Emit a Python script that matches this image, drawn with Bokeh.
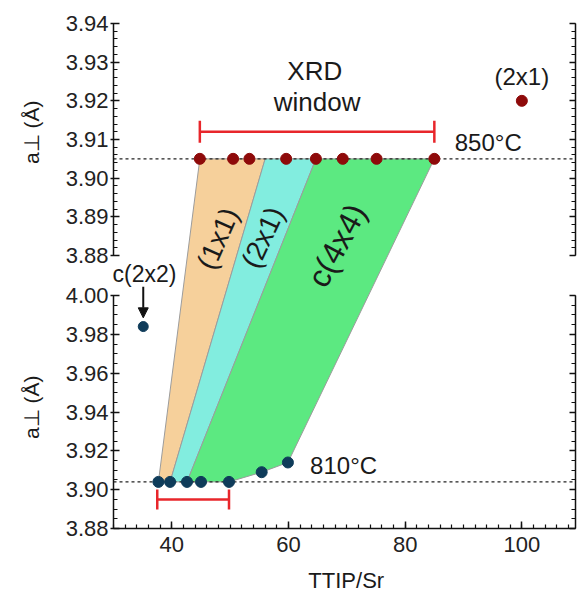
from bokeh.plotting import figure
from bokeh.models import (Range1d, LinearAxis, SingleIntervalTicker, Label, Arrow, NormalHead,
                          CustomJSTickFormatter, PrintfTickFormatter)
from bokeh.embed import file_html
from bokeh.resources import INLINE

# ---------------- data ----------------
x_label = "TTIP/Sr"
y_label = "a\u22a5 (\u00c5)"

# 850 C series (upper panel)
top_x = [44.8, 50.5, 53.3, 59.6, 64.7, 69.3, 75.1, 85.0]
top_y = [3.905, 3.905, 3.905, 3.905, 3.905, 3.905, 3.905, 3.905]
top_extra_x = [100.0]
top_extra_y = [3.920]

# 810 C series (lower panel)
bot_x = [37.7, 39.7, 42.6, 45.0, 49.8, 55.4, 59.9]
bot_y = [3.904, 3.904, 3.904, 3.904, 3.904, 3.909, 3.914]
bot_extra_x = [35.1]
bot_extra_y = [3.984]

# phase regions (upper edge at 850 C, lower edge at 810 C)
phase_names = ["(1x1)", "(2x1)", "c(4x4)"]
phase_colors = ["#F6D09B", "#82EDDF", "#5CE981"]
phase_top_x = [[44.8, 56.0], [56.0, 64.7], [64.7, 85.0]]
phase_top_y = [3.905, 3.905, 3.905]
phase_bot_x = [[37.7, 39.7], [39.7, 42.6], [42.6, 49.8, 55.4, 59.9]]
phase_bot_y = [[3.904, 3.904], [3.904, 3.904], [3.904, 3.904, 3.909, 3.914]]

temp_top = 3.905
temp_bot = 3.904
xrd_top_x = [44.8, 85.0]
xrd_top_y = 3.912
xrd_bot_x = [37.5, 49.8]
xrd_bot_y = 3.895

# axis extents and ticks
x_lo, x_step, x_minor = 30.0, 20, 10
top_lo, top_hi, top_step, top_minor = 3.88, 3.94, 0.01, 5
bot_lo, bot_hi, bot_step, bot_minor = 3.88, 4.00, 0.02, 4

# ---------------- layout (pixels) ----------------
FONT = "Liberation Sans"
W, H = 579, 594
AX_L, AX_R = 113.0, 575.0                   # left / right spines
TOP_HI_PX, TOP_LO_PX = 23.0, 255.0          # upper panel 3.94 .. 3.88
BOT_HI_PX, BOT_LO_PX = 295.0, 528.0         # lower panel 4.00 .. 3.88
PX_PER_X = 116.67 / 20.0

x_hi = x_lo + (AX_R - AX_L) / PX_PER_X
x_range = Range1d(x_lo - AX_L / PX_PER_X, x_lo + (W - AX_L) / PX_PER_X)
bpx = (BOT_LO_PX - BOT_HI_PX) / (bot_hi - bot_lo)
tpx = (TOP_LO_PX - TOP_HI_PX) / (top_hi - top_lo)
bot_range = Range1d(bot_lo - (H - BOT_LO_PX) / bpx, bot_lo + BOT_LO_PX / bpx)
top_range = Range1d(top_hi - (H - TOP_HI_PX) / tpx, top_hi + TOP_HI_PX / tpx)
K = (top_range.end - top_range.start) / (bot_range.end - bot_range.start)


def top_to_bot(y):
    return bot_range.start + (y - top_range.start) / K


p = figure(width=W, height=H, output_backend="svg", toolbar_location=None,
           x_range=x_range, y_range=bot_range, x_axis_location=None, y_axis_location=None,
           min_border=0, min_border_left=0, min_border_right=0, min_border_top=0,
           min_border_bottom=0)
p.extra_y_ranges = {"top": top_range}
p.outline_line_color = None
p.xgrid.visible = False
p.ygrid.visible = False


def style(ax):
    ax.axis_line_width = 1.5
    ax.axis_line_color = "#111111"
    ax.major_tick_line_width = 1.5
    ax.minor_tick_line_width = 1.2
    ax.major_tick_line_color = "#111111"
    ax.minor_tick_line_color = "#111111"
    ax.major_label_text_font = FONT
    ax.major_label_text_font_size = "22px"
    ax.major_label_text_color = "#222222"


# x axis (at 3.88 of the lower panel)
xa = LinearAxis(bounds=(x_lo, x_hi), fixed_location=bot_lo,
                ticker=SingleIntervalTicker(interval=x_step, num_minor_ticks=x_minor))
style(xa)
xa.major_tick_in = 7
xa.major_tick_out = 0
xa.minor_tick_in = 4
xa.minor_tick_out = 0
xa.major_label_standoff = 8
p.add_layout(xa, "below")


def yaxis(rng, lo, hi, step, nminor, loc, labels):
    ax = LinearAxis(y_range_name=rng, bounds=(lo, hi), fixed_location=loc,
                    ticker=SingleIntervalTicker(interval=step, num_minor_ticks=nminor),
                    formatter=(PrintfTickFormatter(format="%.2f") if labels
                               else CustomJSTickFormatter(code="return ''")))
    style(ax)
    ax.major_tick_in = 6
    ax.major_tick_out = 3 if labels else 0
    ax.minor_tick_in = 4
    ax.minor_tick_out = 0
    ax.major_label_standoff = 2
    return ax


p.add_layout(yaxis("default", bot_lo, bot_hi, bot_step, bot_minor, x_lo, True), "left")
p.add_layout(yaxis("top", top_lo, top_hi, top_step, top_minor, x_lo, True), "left")
p.add_layout(yaxis("default", bot_lo, bot_hi, bot_step, bot_minor, x_hi, False), "right")
p.add_layout(yaxis("top", top_lo, top_hi, top_step, top_minor, x_hi, False), "right")

# phase regions spanning both panels
xs, ys = [], []
for tx, ty, bx, by in zip(phase_top_x, phase_top_y, phase_bot_x, phase_bot_y):
    xs.append(list(tx) + list(reversed(bx)))
    ys.append([top_to_bot(ty)] * len(tx) + list(reversed(by)))
p.patches(xs, ys, fill_color=phase_colors, fill_alpha=1.0, line_color="#9C9C9C", line_width=1)

# temperature reference lines (between the spines)
p.segment(x0=[x_lo], y0=[temp_top], x1=[x_hi], y1=[temp_top], y_range_name="top",
          line_color="#222222", line_width=1.2, line_dash="3 3")
p.segment(x0=[x_lo], y0=[temp_bot], x1=[x_hi], y1=[temp_bot],
          line_color="#222222", line_width=1.2, line_dash="3 3")

# XRD window bars
RED = "#E8262B"
p.segment(x0=[xrd_top_x[0]], y0=[xrd_top_y], x1=[xrd_top_x[1]], y1=[xrd_top_y],
          y_range_name="top", line_color=RED, line_width=2.5)
p.scatter(xrd_top_x, [xrd_top_y] * 2, y_range_name="top", marker="dash", angle=1.5708,
          size=22, line_color=RED, line_width=2.5)
p.segment(x0=[xrd_bot_x[0]], y0=[xrd_bot_y], x1=[xrd_bot_x[1]], y1=[xrd_bot_y],
          line_color=RED, line_width=2.5)
p.scatter(xrd_bot_x, [xrd_bot_y] * 2, marker="dash", angle=1.5708,
          size=20, line_color=RED, line_width=2.5)

# points
DARKRED = "#8E0A0A"
NAVY = "#0F3C5A"
p.scatter(top_x, top_y, y_range_name="top", size=11, fill_color=DARKRED, line_color=DARKRED)
p.scatter(top_extra_x, top_extra_y, y_range_name="top", size=11, fill_color=DARKRED, line_color=DARKRED)
p.scatter(bot_x, bot_y, size=11, fill_color=NAVY, line_color=NAVY)
p.scatter(bot_extra_x, bot_extra_y, size=10, fill_color=NAVY, line_color=NAVY)

# arrow to c(2x2) point
p.add_layout(Arrow(end=NormalHead(size=10, fill_color="#111111", line_color="#111111"),
                   x_start=bot_extra_x[0], y_start=4.0045, x_end=bot_extra_x[0], y_end=3.9885,
                   line_color="#111111", line_width=2))


def lab(text, x, y, size, rng="default", angle=0, align="center", baseline="middle"):
    p.add_layout(Label(x=x, y=y, y_range_name=rng, text=text, text_font=FONT,
                       text_font_size=size, text_color="#1A1A1A", text_align=align,
                       text_baseline=baseline, angle=angle, angle_units="deg"))


# axis titles
lab(y_label, 15.9, 3.9119, "21px", rng="top", angle=90)
lab(y_label, 15.9, 3.9425, "21px", angle=90)
lab(x_label, 69.9, 3.8532, "22px")

lab("XRD", 64.5, 3.9278, "26px", rng="top")
lab("window", 64.9, 3.9196, "26px", rng="top")
lab("(2x1)", 100.0, 3.9262, "24px", rng="top")
lab("850\u00b0C", 88.5, 3.9092, "24px", rng="top", align="left")
lab("810\u00b0C", 63.7, 3.9124, "24px", align="left")
lab("c(2x2)", 35.3, 4.0113, "23px")
lab(phase_names[0], 47.9, 3.8844, "28px", rng="top", angle=66)
lab(phase_names[1], 55.6, 3.8847, "28px", rng="top", angle=65)
lab(phase_names[2], 68.3, 3.8826, "32px", rng="top", angle=62)

open("out.html", "w").write(file_html(p, INLINE))
